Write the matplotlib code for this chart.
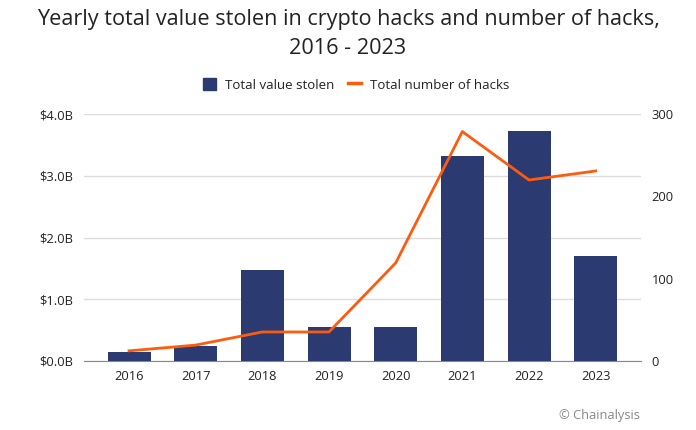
import matplotlib
matplotlib.use("Agg")
import matplotlib.pyplot as plt
from matplotlib.lines import Line2D
from matplotlib.patches import Patch

years = ["2016", "2017", "2018", "2019", "2020", "2021", "2022", "2023"]
value_stolen_b = [0.14, 0.24, 1.48, 0.54, 0.54, 3.33, 3.73, 1.70]
num_hacks = [12, 19, 35, 35, 119, 279, 220, 231]
left_ticks = [0, 1, 2, 3, 4]
left_labels = ["$0.0B", "$1.0B", "$2.0B", "$3.0B", "$4.0B"]
right_ticks = [0, 100, 200, 300]

NAVY = "#2b3a70"
ORANGE = "#ff5b0f"
TXT = "#222222"

plt.rcParams['font.family'] = ['Open Sans', 'DejaVu Sans']

fig = plt.figure(figsize=(6.96, 4.30), dpi=100)
ax = fig.add_axes([84/696, 1-360.7/430, (640.7-84)/696, (360.7-114.3)/430])
x = list(range(len(years)))
ax.bar(x, value_stolen_b, width=0.645, color=NAVY, zorder=3)
ax.set_xlim(-0.675, len(years) - 1 + 0.675)
ax.set_ylim(0, 4)
ax.set_yticks(left_ticks)
ax.set_yticklabels(left_labels)
ax.set_xticks(x)
ax.set_xticklabels(years)
ax.grid(axis='y', color='#dddddd', linewidth=1, zorder=0)
for s in ['top', 'right', 'left']:
    ax.spines[s].set_visible(False)
ax.spines['bottom'].set_color('#888888')
ax.tick_params(axis='both', length=0, labelsize=9.3, colors=TXT)
ax.tick_params(axis='x', pad=7)
ax.tick_params(axis='y', pad=8)

ax2 = ax.twinx()
ax2.plot(x, num_hacks, color=ORANGE, linewidth=2, zorder=4)
ax2.set_ylim(0, 300)
ax2.set_yticks(right_ticks)
for s in ['top', 'right', 'left', 'bottom']:
    ax2.spines[s].set_visible(False)
ax2.tick_params(axis='y', length=0, labelsize=9.3, colors=TXT, pad=8)

fig.text(0.5, 1-20/430, "Yearly total value stolen in crypto hacks and number of hacks,",
         ha='center', va='center', fontsize=15.6, color=TXT)
fig.text(0.5, 1-48/430, "2016 - 2023", ha='center', va='center', fontsize=15.6, color=TXT)

handles = [Patch(facecolor=NAVY, edgecolor=NAVY, label="Total value stolen"),
           Line2D([0], [0], color=ORANGE, linewidth=2.5, label="Total number of hacks")]
fig.legend(handles=handles, loc='center', bbox_to_anchor=(356/696, 1-85/430), ncol=2,
           frameon=False, fontsize=9.5, handlelength=1.0, handleheight=1.0,
           columnspacing=1.0, handletextpad=0.7, labelcolor=TXT)

fig.text(640/696, 1-416/430, "© Chainalysis", ha='right', va='center', fontsize=9.3, color='#888888')

fig.savefig("out.png", dpi=100)
